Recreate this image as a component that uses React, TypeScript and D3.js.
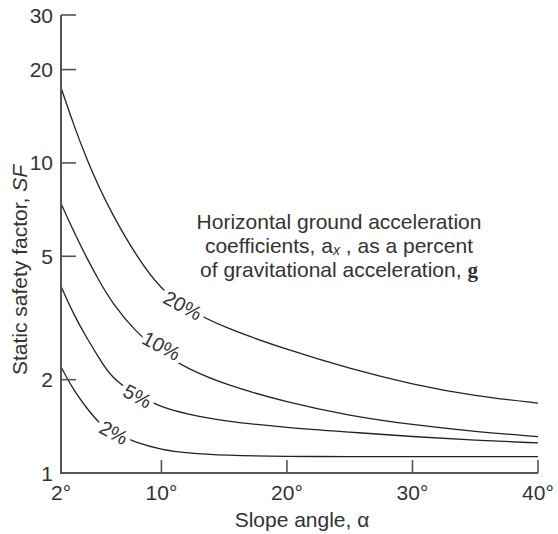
import React from "react";
import * as d3 from "d3";

// Slope angle (degrees) sampled along each curve
const angles = [2, 3, 4, 5, 6, 8, 10, 12, 15, 20, 25, 30, 35, 40];

// Static safety factor for each horizontal acceleration coefficient
const sf20 = [17.5, 13.3, 10.4, 8.4, 6.93, 5.0, 3.89, 3.39, 2.94, 2.5, 2.17, 1.93, 1.77, 1.68];
const sf10 = [7.4, 6.03, 4.98, 4.19, 3.57, 2.83, 2.43, 2.18, 1.93, 1.69, 1.53, 1.43, 1.36, 1.31];
const sf5 = [4.0, 3.25, 2.75, 2.36, 2.03, 1.78, 1.63, 1.55, 1.47, 1.4, 1.355, 1.31, 1.275, 1.25];
const sf2 = [2.2, 1.85, 1.63, 1.45, 1.36, 1.25, 1.19, 1.16, 1.14, 1.13, 1.13, 1.13, 1.13, 1.13];

const seriesNames = ["20%", "10%", "5%", "2%"];
const seriesValues = [sf20, sf10, sf5, sf2];
// Where each curve label sits (angle, safety factor)
const labelAngles = [11.7, 10.0, 8.1, 6.2];
const labelValues = [3.47, 2.57, 1.77, 1.35];

const xTicks = [2, 10, 20, 30, 40];
const yTicks = [1, 2, 5, 10, 20, 30];

const W = 558;
const H = 534;
const FONT = "'Liberation Sans', Arial, Helvetica, sans-serif";
const TEXT = "#333";

export default function App() {
  const x = d3.scaleLinear().domain([2, 40]).range([61, 538]);
  const y = d3.scaleLog().domain([1, 30]).range([473, 15]);

  const line = d3
    .line<[number, number]>()
    .x((d) => x(d[0]))
    .y((d) => y(d[1]))
    .curve(d3.curveBasis);

  const axisColor = "#555";

  return (
    <svg
      width={W}
      height={H}
      style={{ position: "absolute", left: 0, top: 0, background: "#fff" }}
      fontFamily={FONT}
    >
      {/* curves */}
      {seriesValues.map((vals, i) => (
        <path
          key={seriesNames[i]}
          d={line(angles.map((a, j) => [a, vals[j]] as [number, number])) || ""}
          fill="none"
          stroke="#222"
          strokeWidth={1.3}
        />
      ))}

      {/* curve labels, with a white halo that breaks the line */}
      {seriesNames.map((name, i) => {
        const lx = x(labelAngles[i]);
        const ly = y(labelValues[i]);
        return (
          <text
            key={name}
            x={lx}
            y={ly}
            transform={`rotate(28, ${lx}, ${ly})`}
            textAnchor="middle"
            dominantBaseline="central"
            fontSize={20}
            fill={TEXT}
            stroke="#fff"
            strokeWidth={9}
            paintOrder="stroke"
            strokeLinejoin="round"
          >
            {name}
          </text>
        );
      })}

      {/* y axis */}
      <line x1={x(2)} x2={x(2)} y1={y(30)} y2={y(1)} stroke={axisColor} strokeWidth={2} />
      {yTicks.map((t) => (
        <g key={t}>
          {t !== 1 && (
            <line x1={x(2)} x2={x(2) + 15} y1={y(t)} y2={y(t)} stroke={axisColor} strokeWidth={1.6} />
          )}
          <text
            x={x(2) - 8}
            y={y(t)}
            textAnchor="end"
            dominantBaseline="central"
            fontSize={21}
            fill={TEXT}
          >
            {t}
          </text>
        </g>
      ))}

      {/* x axis */}
      <line x1={x(2) - 1} x2={x(40)} y1={y(1)} y2={y(1)} stroke={axisColor} strokeWidth={2} />
      {xTicks.map((t) => (
        <g key={t}>
          {t !== 2 && (
            <line x1={x(t)} x2={x(t)} y1={y(1)} y2={y(1) - 13} stroke={axisColor} strokeWidth={1.6} />
          )}
          <text x={x(t)} y={y(1) + 27} textAnchor="middle" fontSize={21} fill={TEXT}>
            {t}°
          </text>
        </g>
      ))}

      {/* axis titles */}
      <text x={302} y={527} textAnchor="middle" fontSize={21} fill={TEXT}>
        Slope angle, α
      </text>
      <text
        transform={`translate(27, 270) rotate(-90)`}
        textAnchor="middle"
        fontSize={21}
        fill={TEXT}
      >
        Static safety factor, <tspan fontStyle="italic">SF</tspan>
      </text>

      {/* annotation */}
      <text textAnchor="middle" fontSize={21} fill={TEXT}>
        <tspan x={339} y={229}>Horizontal ground acceleration</tspan>
        <tspan x={339} y={253}>
          coefficients, a<tspan fontStyle="italic" fontSize={14} dy={2}>x</tspan>
          <tspan dy={-2}> , as a percent</tspan>
        </tspan>
        <tspan x={339} y={277}>
          of gravitational acceleration,{" "}
          <tspan fontFamily="'Liberation Serif', 'Times New Roman', serif" fontWeight="bold">g</tspan>
        </tspan>
      </text>
    </svg>
  );
}
